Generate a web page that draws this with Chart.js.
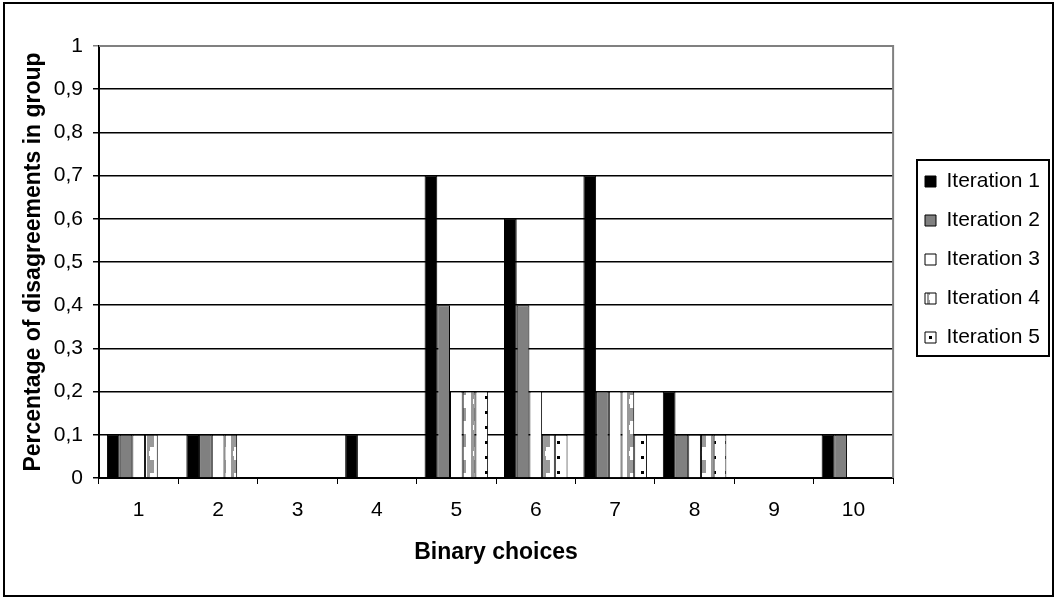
<!DOCTYPE html>
<html><head><meta charset="utf-8">
<script src="https://cdn.jsdelivr.net/npm/chart.js@4.4.0/dist/chart.umd.min.js"></script>
<style>html,body{margin:0;padding:0;background:#fff}#wrap{width:1057px;height:599px;position:relative}canvas{display:block}</style>
</head><body><div id="wrap"><canvas id="c" width="1057" height="599" style="width:1057px;height:599px"></canvas></div>
<script>
const categories = ['1','2','3','4','5','6','7','8','9','10'];
const iteration1 = [0.1, 0.1, 0, 0.1, 0.7, 0.6, 0.7, 0.2, 0, 0.1];
const iteration2 = [0.1, 0.1, 0, 0, 0.4, 0.4, 0.2, 0.1, 0, 0.1];
const iteration3 = [0.1, 0.1, 0, 0, 0.2, 0.2, 0.2, 0.1, 0, 0];
const iteration4 = [0.1, 0.1, 0, 0, 0.2, 0.1, 0.2, 0.1, 0, 0];
const iteration5 = [0, 0, 0, 0, 0.2, 0.1, 0.1, 0.1, 0, 0];
const seriesNames = ['Iteration 1', 'Iteration 2', 'Iteration 3', 'Iteration 4', 'Iteration 5'];
const yTickLabels = ['0', '0,1', '0,2', '0,3', '0,4', '0,5', '0,6', '0,7', '0,8', '0,9', '1'];
const xTitle = 'Binary choices';
const yTitle = 'Percentage of disagreements in group';

function makePattern(w, h, draw) {
  const c = document.createElement('canvas');
  c.width = w; c.height = h;
  const g = c.getContext('2d');
  g.fillStyle = '#ffffff'; g.fillRect(0, 0, w, h);
  draw(g);
  return g.createPattern(c, 'repeat');
}
const ctx0 = document.getElementById('c').getContext('2d');
const grayPat = makePattern(12, 26, g => {
  g.fillStyle = '#999999';
  g.fillRect(3, 0, 7, 5);
  g.fillRect(3, 5, 3, 4);
  g.fillRect(3, 9, 2, 5);
  g.fillRect(3, 14, 3, 4);
  g.fillRect(3, 18, 7, 8);
});
const dotPat = makePattern(12, 15, g => {
  g.fillStyle = '#000000';
  g.fillRect(5, 6, 3, 3);
});

const fills = ['#000000', '#808080', '#ffffff', grayPat, dotPat];
const seriesData = [iteration1, iteration2, iteration3, iteration4, iteration5];
const FONT = 'Liberation Sans, Arial, sans-serif';

const framePlugin = {
  id: 'frames',
  afterLayout(chart) {
    const lg = chart.legend;
    if (!lg) return;
    const w = lg.width;
    lg.left = 907; lg.right = 907 + w;
    lg.top = 153; lg.bottom = 590;
  },
  beforeDraw(chart) {
    const c = chart.ctx;
    c.save();
    c.fillStyle = '#fff';
    c.fillRect(0, 0, chart.width, chart.height);
    c.strokeStyle = '#000';
    c.lineWidth = 2;
    c.strokeRect(4, 3, 1049, 593);
    c.restore();
  },
  afterDatasetsDraw(chart) {
    const a = chart.chartArea;
    const c = chart.ctx;
    c.save();
    c.strokeStyle = '#808080';
    c.lineWidth = 2;
    c.beginPath();
    c.moveTo(a.left, a.top);
    c.lineTo(a.right, a.top);
    c.lineTo(a.right, a.bottom);
    c.stroke();
    c.restore();
  },
  afterDraw(chart) {
    const lg = chart.legend;
    if (!lg || !lg.legendHitBoxes || !lg.legendHitBoxes.length) return;
    const hb = lg.legendHitBoxes;
    let minL = Infinity, minT = Infinity, maxB = -Infinity;
    hb.forEach(h => { minL = Math.min(minL, h.left); minT = Math.min(minT, h.top); maxB = Math.max(maxB, h.top + h.height); });
    const c = chart.ctx;
    c.save();
    c.strokeStyle = '#000';
    c.lineWidth = 2;
    c.strokeRect(minL - 8, minT - 11, 132, (maxB - minT) + 19);
    c.restore();
  }
};

new Chart(ctx0, {
  type: 'bar',
  data: {
    labels: categories,
    datasets: seriesNames.map((n, i) => ({
      label: n,
      data: seriesData[i],
      backgroundColor: fills[i],
      borderColor: '#000000',
      borderWidth: 1,
      categoryPercentage: 0.8,
      barPercentage: 1.0
    }))
  },
  options: {
    responsive: false,
    animation: false,
    devicePixelRatio: 1,
    layout: { padding: { top: 46, right: 21, bottom: 0, left: 0 } },
    plugins: {
      tooltip: { enabled: false },
      legend: {
        position: 'right',
        align: 'start',
        labels: {
          boxWidth: 11, boxHeight: 11, padding: 18,
          color: '#000',
          font: { family: FONT, size: 21 }
        }
      }
    },
    scales: {
      x: {
        offset: true,
        grid: { offset: true, drawOnChartArea: false, drawTicks: true, tickLength: 6, color: '#000', lineWidth: 1 },
        border: { color: '#000', width: 2 },
        ticks: { color: '#000', padding: 14, font: { family: FONT, size: 21 } },
        title: { display: true, text: xTitle, color: '#000', padding: { top: 0, bottom: 33 }, font: { family: FONT, size: 23, weight: 'bold' } },
        afterFit(s) { s.height = 121; }
      },
      y: {
        min: 0, max: 1,
        ticks: {
          stepSize: 0.1, color: '#000', padding: 10,
          font: { family: FONT, size: 21 },
          callback: (v, i) => yTickLabels[i]
        },
        grid: {
          color: (c) => c.index === 10 ? '#808080' : '#000',
          lineWidth: 1.5, tickLength: 6, drawTicks: true
        },
        border: { color: '#000', width: 2 },
        title: { display: true, text: yTitle, color: '#000', padding: { top: 20, bottom: 0 }, font: { family: FONT, size: 23, weight: 'bold' } },
        afterFit(s) { s.width = 99; }
      }
    }
  },
  plugins: [framePlugin]
});
</script>
</body></html>
